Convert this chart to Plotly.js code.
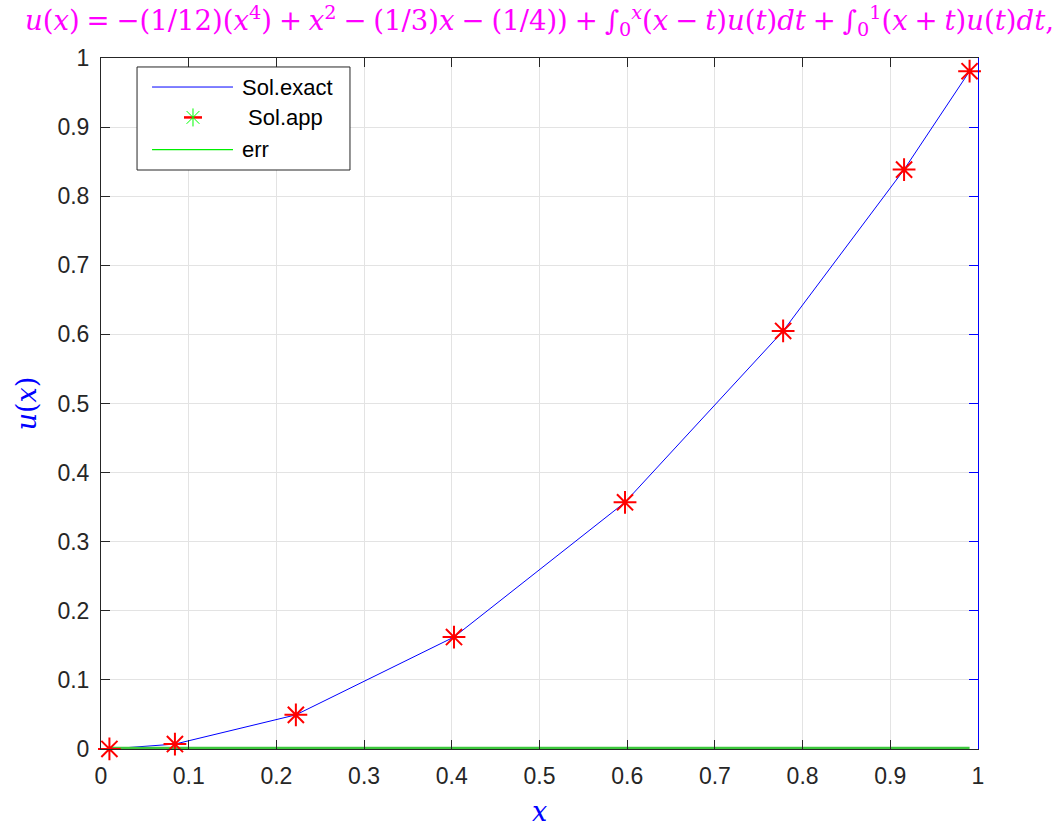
<!DOCTYPE html>
<html>
<head>
<meta charset="utf-8">
<script src="https://cdn.plot.ly/plotly-3.0.1.min.js"></script>
<style>html,body{margin:0;padding:0;background:#fff;}#chart{width:1060px;height:827px;}</style>
</head>
<body>
<div id="chart"></div>
<script>
// Data
const xNodes = [0.0096, 0.0843, 0.2222, 0.4025, 0.5975, 0.7778, 0.9157, 0.9904];
const uExact = [0.0001, 0.0071, 0.0494, 0.1620, 0.3570, 0.6050, 0.8385, 0.9809];
const uApprox = [0.0001, 0.0071, 0.0494, 0.1620, 0.3570, 0.6050, 0.8385, 0.9809];
const errVals = [0, 0, 0, 0, 0, 0, 0, 0];
const tickVals = [0, 0.1, 0.2, 0.3, 0.4, 0.5, 0.6, 0.7, 0.8, 0.9, 1];
const tickText = ["0", "0.1", "0.2", "0.3", "0.4", "0.5", "0.6", "0.7", "0.8", "0.9", "1"];
const legendNames = ["Sol.exact", " Sol.app", "err"];

const traces = [
  {x: xNodes, y: uExact, mode: 'lines', name: legendNames[0], line: {color: '#0000ff', width: 1}, showlegend: false},
  {x: xNodes, y: errVals, mode: 'lines', name: legendNames[2], line: {color: '#3cc83c', width: 4.5}, showlegend: false},
  {x: xNodes, y: uApprox, mode: 'markers', name: legendNames[1], cliponaxis: false,
   marker: {symbol: 'asterisk-open', size: 19, color: '#ff0000', line: {color: '#ff0000', width: 2}}, showlegend: false},
  {x: [0, 1], y: [0, 1], yaxis: 'y2', mode: 'none', hoverinfo: 'skip', showlegend: false}
];

const axisFont = {family: 'Liberation Sans, Arial, sans-serif', size: 23, color: '#262626'};

// legend box geometry (paper coords)
const lx0 = 0.0411, lx1 = 0.2839, ly0 = 0.8379, ly1 = 0.9870;
const lineX0 = 0.0582, lineX1 = 0.1505, symX = 0.1049;
const rowY = [0.9580, 0.9140, 0.8675];

const shapes = [
  {type: 'rect', xref: 'paper', yref: 'paper', x0: lx0, x1: lx1, y0: ly0, y1: ly1,
   fillcolor: '#ffffff', line: {color: '#262626', width: 1}, layer: 'above'},
  {type: 'line', xref: 'paper', yref: 'paper', x0: lineX0, x1: lineX1, y0: rowY[0], y1: rowY[0],
   line: {color: '#0000ff', width: 1}, layer: 'above'},
  {type: 'line', xref: 'paper', yref: 'paper', x0: lineX0, x1: lineX1, y0: rowY[2], y1: rowY[2],
   line: {color: '#00ee00', width: 1.2}, layer: 'above'},
  {type: 'path', xref: 'paper', yref: 'paper', xsizemode: 'pixel', ysizemode: 'pixel', xanchor: symX, yanchor: rowY[1],
   path: 'M-9,0 L9,0', line: {color: '#ff0000', width: 2.5}, layer: 'above'},
  {type: 'path', xref: 'paper', yref: 'paper', xsizemode: 'pixel', ysizemode: 'pixel', xanchor: symX, yanchor: rowY[1],
   path: 'M0,-9 L0,9 M-6.4,-6.4 L6.4,6.4 M-6.4,6.4 L6.4,-6.4', line: {color: '#00ff00', width: 1}, layer: 'above'}
];

const legFont = {family: 'Liberation Sans, Arial, sans-serif', size: 22, color: '#000000'};
const annotations = legendNames.map((t, i) => ({
  xref: 'paper', yref: 'paper', x: 0.1585, y: rowY[i], xanchor: 'left', yanchor: 'middle',
  text: t, showarrow: false, font: legFont
}));

const sp = '\u2005';
const layout = {
  width: 1060, height: 827,
  margin: {l: 101, r: 82, t: 58, b: 78, pad: 0},
  paper_bgcolor: '#ffffff', plot_bgcolor: '#ffffff',
  title: {
    text: '<i>u</i>(<i>x</i>)' + sp + '=' + sp + '−(1/12)(<i>x</i><sup>4</sup>)' + sp + '+' + sp + '<i>x</i><sup>2</sup>' + sp + '−' + sp + '(1/3)<i>x</i>' + sp + '−' + sp + '(1/4))' + sp + '+' + sp + '∫<sub>0</sub><sup><i>x</i></sup>(<i>x</i>' + sp + '−' + sp + '<i>t</i>)<i>u</i>(<i>t</i>)<i>dt</i>' + sp + '+' + sp + '∫<sub>0</sub><sup>1</sup>(<i>x</i>' + sp + '+' + sp + '<i>t</i>)<i>u</i>(<i>t</i>)<i>dt</i>,',
    font: {family: 'DejaVu Serif, Liberation Serif, serif', size: 27.5, color: '#ff00ff'},
    xref: 'paper', x: 0.5, xanchor: 'center', yref: 'container', y: 0.975, yanchor: 'middle'
  },
  xaxis: {
    range: [0, 1], tickvals: tickVals, ticktext: tickText,
    showgrid: true, gridcolor: '#e3e3e3', gridwidth: 1, zeroline: false,
    showline: true, linecolor: '#262626', linewidth: 1, mirror: 'ticks',
    ticks: 'inside', ticklen: 9, tickcolor: '#262626', tickfont: axisFont, ticklabelstandoff: 6,
    title: {text: '<i>x</i>', font: {family: 'DejaVu Serif, Liberation Serif, serif', size: 27, color: '#0000ff'}, standoff: 16}
  },
  yaxis: {
    range: [0, 1], tickvals: tickVals, ticktext: tickText,
    showgrid: true, gridcolor: '#e3e3e3', gridwidth: 1, zeroline: false,
    showline: true, linecolor: '#262626', linewidth: 1,
    ticks: 'inside', ticklen: 9, tickcolor: '#262626', tickfont: axisFont, ticklabelstandoff: 6,
    title: {text: '<i>u</i>(<i>x</i>)', font: {family: 'DejaVu Serif, Liberation Serif, serif', size: 27, color: '#0000ff'}, standoff: 12}
  },
  yaxis2: {
    range: [0, 1], tickvals: tickVals, overlaying: 'y', side: 'right', anchor: 'x',
    showgrid: false, zeroline: false, showticklabels: false,
    showline: true, linecolor: '#0000ff', linewidth: 1,
    ticks: 'inside', ticklen: 9, tickcolor: '#0000ff'
  },
  shapes: shapes,
  annotations: annotations,
  showlegend: false
};

Plotly.newPlot('chart', traces, layout, {staticPlot: true, displayModeBar: false});
</script>
</body>
</html>
